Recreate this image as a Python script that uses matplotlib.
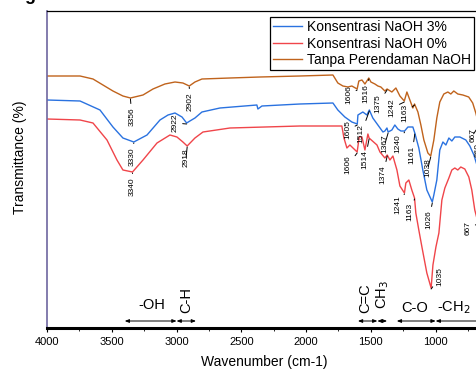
import matplotlib.pyplot as plt
import numpy as np

plt.rcParams['font.family'] = ['Liberation Sans', 'DejaVu Sans']

# data (wavenumber cm-1, transmittance offset units)
wn_brown = [4000, 3745, 3645, 3491, 3414, 3356, 3259, 3182, 3090, 3012, 2951, 2902, 2858, 2804,
            2588, 2356, 2048, 1793, 1755, 1716, 1677, 1647, 1606, 1593, 1569, 1546, 1516, 1500,
            1469, 1446, 1423, 1392, 1375, 1338, 1307, 1276, 1242, 1222, 1199, 1176, 1163, 1137,
            1114, 1091, 1060, 1038, 1014, 991, 968, 937, 906, 883, 860, 829, 790, 745, 714, 690,
            667, 650]
t_brown = [252, 252, 249, 237, 232, 230, 233, 239, 244, 246, 245, 242, 246, 249,
           250, 251, 252, 253, 245, 242, 241, 242, 239, 247, 248, 244, 250, 246,
           244, 242, 241, 237, 239, 236, 240, 232, 227, 236, 228, 220, 224, 216,
           203, 188, 175, 172, 188, 210, 226, 234, 236, 234, 237, 234, 233, 231, 225, 215,
           203, 205]

wn_blue = [4000, 3745, 3591, 3491, 3414, 3330, 3228, 3128, 3066, 3012, 2958, 2922, 2897, 2858,
           2804, 2665, 2380, 2372, 2341, 2048, 1793, 1755, 1701, 1647, 1605, 1600, 1562, 1531,
           1512, 1485, 1446, 1407, 1392, 1376, 1367, 1338, 1315, 1292, 1268, 1240, 1214, 1176,
           1161, 1130, 1099, 1068, 1026, 1014, 991, 968, 944, 921, 898, 875, 852, 813, 767,
           736, 705, 674, 650]
t_blue = [228, 227, 218, 201, 190, 186, 193, 208, 213, 215, 211, 205, 207, 210,
          216, 220, 223, 219, 222, 224, 225, 218, 211, 206, 204, 213, 216, 213,
          218, 210, 203, 196, 197, 200, 196, 198, 203, 199, 197, 197, 201, 201,
          195, 180, 158, 138, 126, 133, 148, 178, 186, 183, 190, 187, 191, 191, 188,
          182, 173, 160, 158]

wn_red = [4000, 3745, 3645, 3537, 3460, 3414, 3340, 3259, 3151, 3051, 2997, 2951, 2918, 2858,
          2796, 2588, 2048, 1724, 1708, 1685, 1662, 1606, 1590, 1569, 1546, 1523, 1514, 1453,
          1430, 1392, 1374, 1353, 1330, 1299, 1276, 1241, 1230, 1207, 1184, 1163, 1153, 1130,
          1106, 1068, 1035, 1021, 998, 975, 952, 929, 898, 875, 852, 829, 806, 775, 744, 721,
          698, 674, 650]
t_red = [209, 208, 205, 188, 168, 158, 156, 168, 185, 193, 191, 186, 182, 190,
         196, 200, 202, 202, 190, 180, 183, 176, 191, 191, 178, 194, 190, 183,
         176, 170, 173, 168, 172, 158, 142, 135, 145, 148, 138, 130, 115, 98,
         81, 55, 40, 63, 81, 95, 128, 140, 150, 158, 160, 158, 161, 159, 151, 138,
         118, 106, 104]

series_labels = ['Konsentrasi NaOH 3%', 'Konsentrasi NaOH 0%', 'Tanpa Perendaman NaOH']

# peak labels: (peak, text x, text y)
peaks_brown = [(3356, 3344, 211), (2902, 2897, 226), (1606, 1672, 233), (1516, 1540, 234),
               (1375, 1446, 224), (1242, 1338, 220), (1163, 1238, 215), (1038, 1060, 160),
               (667, 713, 193)]
peaks_blue = [(3330, 3344, 171), (2922, 3012, 205), (1605, 1680, 198), (1512, 1577, 194),
              (1367, 1392, 184), (1240, 1292, 184), (1161, 1184, 173), (1026, 1053, 108),
              (660, 672, 178)]
peaks_red = [(3340, 3344, 141), (2918, 2927, 170), (1606, 1677, 163), (1514, 1546, 168),
             (1374, 1407, 153), (1241, 1292, 123), (1163, 1199, 116), (1035, 968, 51),
             (667, 752, 100)]

groups = ['-OH', 'C-H', 'C=C', 'CH$_3$', 'C-O', '-CH$_2$']
group_ranges = [(3400, 3000), (3000, 2850), (1600, 1450), (1450, 1375), (1300, 1000), (1000, 640)]

c_blue = '#2a72e0'
c_red = '#f0454a'
c_brown = '#c0631c'

fig = plt.figure(figsize=(4.76, 3.8), dpi=100)
ax = fig.add_axes([47 / 476, 52 / 380, 434 / 476, 317 / 380])

ax.plot(wn_blue, t_blue, color=c_blue, lw=1.0, label=series_labels[0])
ax.plot(wn_red, t_red, color=c_red, lw=1.0, label=series_labels[1])
ax.plot(wn_brown, t_brown, color=c_brown, lw=1.0, label=series_labels[2])

ax.set_xlim(4000, 650)
ax.set_ylim(0, 317)

for wn, tv, peaks in [(wn_brown, t_brown, peaks_brown), (wn_blue, t_blue, peaks_blue),
                      (wn_red, t_red, peaks_red)]:
    x_asc = wn[::-1]
    y_asc = tv[::-1]
    for p, tx, ty in peaks:
        yp = np.interp(p, x_asc, y_asc)
        ax.annotate(str(p), xy=(p, yp - 1), xytext=(tx, ty), rotation=90,
                    ha='center', va='center', fontsize=6, annotation_clip=False,
                    arrowprops=dict(arrowstyle='-', lw=0.7, color='black',
                                    shrinkA=1, shrinkB=0))

# functional group brackets
text_pos = [(3190, 23, 0), (2927, 28, 90), (1546, 30, 90), (1407, 33, 90), (1160, 20, 0), (860, 20, 0)]
for name, (a, b), (tx, ty, rot) in zip(groups, group_ranges, text_pos):
    ax.annotate('', xy=(a, 7), xytext=(b, 7), annotation_clip=False,
                arrowprops=dict(arrowstyle='<|-|>,head_length=0.25,head_width=0.1',
                                lw=0.7, color='black', shrinkA=0, shrinkB=0))
    ax.text(tx, ty, name, rotation=rot, ha='center', va='center', fontsize=10.5)

ax.set_yticks([])
ax.set_xticks([4000, 3500, 3000, 2500, 2000, 1500, 1000])
ax.set_xticks(np.arange(3750, 640, -250), minor=True)
ax.tick_params(axis='x', labelsize=8, direction='out', length=3, width=0.8)
ax.tick_params(axis='x', which='minor', length=2, width=0.6)
ax.spines['bottom'].set_linewidth(2.2)
ax.spines['top'].set_linewidth(0.9)
ax.spines['left'].set_color('#6e66a0')
ax.spines['left'].set_linewidth(1.2)
ax.spines['right'].set_visible(False)

ax.set_xlabel('Wavenumber (cm-1)', fontsize=10, labelpad=6)
ax.set_ylabel('Transmittance (%)', fontsize=10, labelpad=12)
ax.yaxis.set_label_coords(-0.045, 0.54)

leg = ax.legend(loc='upper right', bbox_to_anchor=(474 / 476, 363 / 380),
                bbox_transform=fig.transFigure, borderaxespad=0, fontsize=10,
                fancybox=False, framealpha=1, edgecolor='black', handlelength=2.1,
                handletextpad=0.4, labelspacing=0.2, borderpad=0.2)
leg.get_frame().set_linewidth(0.9)

fig.text(0.062, 1.012, 'g', fontsize=13, fontweight='bold', va='center', ha='center')

plt.savefig('out.png', dpi=100)
